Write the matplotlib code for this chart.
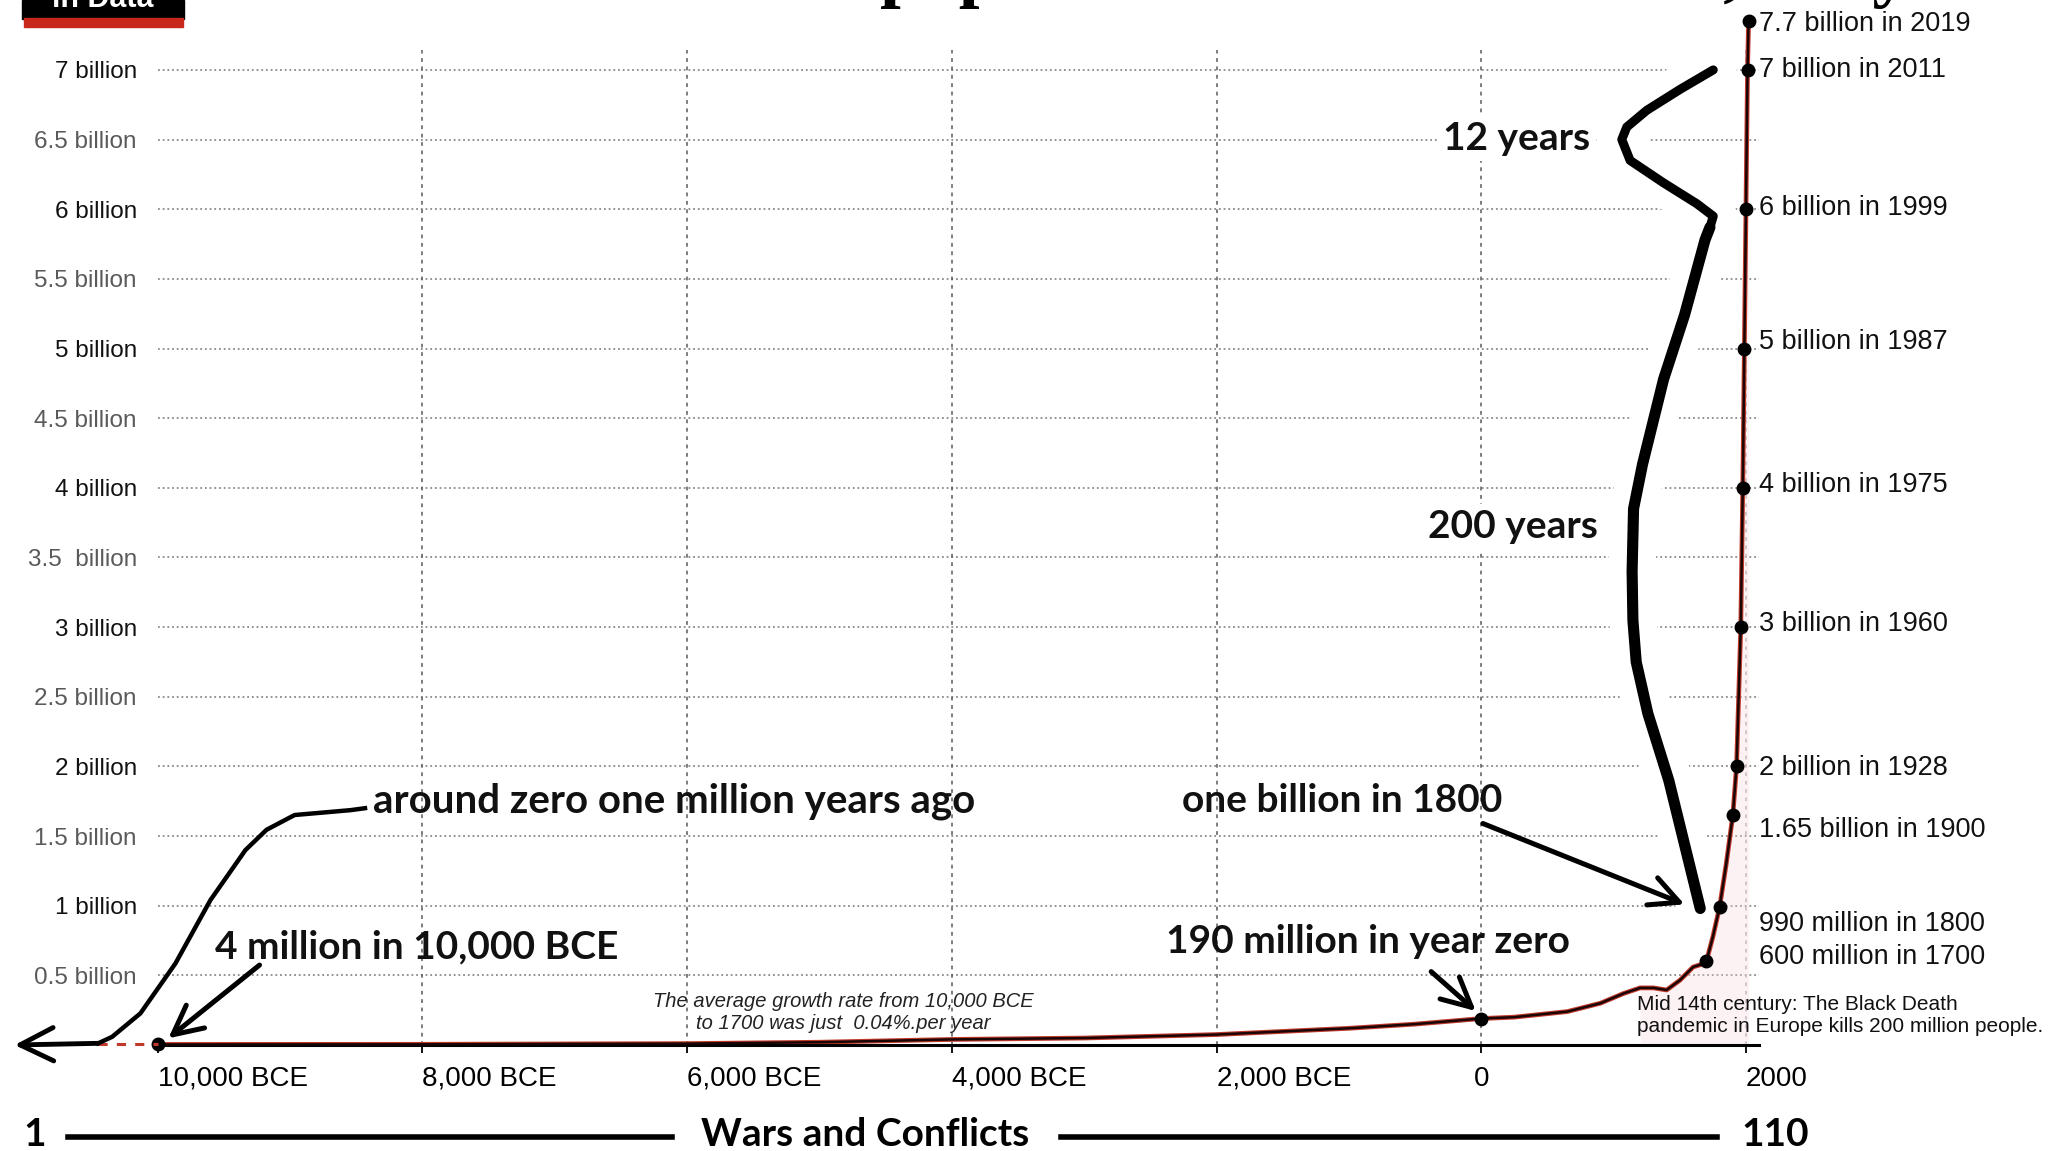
import numpy as np
import matplotlib
matplotlib.use("Agg")
import matplotlib.pyplot as plt
from matplotlib.lines import Line2D
from matplotlib.patches import Rectangle

plt.rcParams["font.family"] = ["Liberation Sans", "DejaVu Sans"]

# ------------------------------------------------------------------
# data (world population, billions)
# ------------------------------------------------------------------
years = [-10000, -8000, -6000, -5000, -4000, -3000, -2000, -1000, -500, 0,
         250, 650, 900, 1075, 1200, 1300, 1400, 1500, 1600, 1650, 1700, 1750,
         1800, 1850, 1900, 1928, 1960, 1975, 1987, 1999, 2011, 2019]
population_bn = [0.004, 0.005, 0.01, 0.02, 0.04, 0.05, 0.075, 0.12, 0.15, 0.19,
                 0.20, 0.24, 0.30, 0.37, 0.41, 0.41, 0.395, 0.465, 0.56, 0.575, 0.60, 0.78,
                 0.99, 1.30, 1.65, 2.0, 3.0, 4.0, 5.0, 6.0, 7.0, 7.7]

dot_years = [-10000, 0, 1700, 1800, 1900, 1928, 1960, 1975, 1987, 1999, 2011, 2019]

right_labels = ["7.7 billion in 2019", "7 billion in 2011", "6 billion in 1999",
                "5 billion in 1987", "4 billion in 1975", "3 billion in 1960",
                "2 billion in 1928", "1.65 billion in 1900", "990 million in 1800",
                "600 million in 1700"]

ytick_vals = [0.5, 1, 1.5, 2, 2.5, 3, 3.5, 4, 4.5, 5, 5.5, 6, 6.5, 7]
ytick_labels = ["0.5 billion", "1 billion", "1.5 billion", "2 billion", "2.5 billion",
                "3 billion", "3.5  billion", "4 billion", "4.5 billion", "5 billion",
                "5.5 billion", "6 billion", "6.5 billion", "7 billion"]

xtick_years = [-10000, -8000, -6000, -4000, -2000, 0, 2000]
xtick_labels = ["10,000 BCE", "8,000 BCE", "6,000 BCE", "4,000 BCE", "2,000 BCE", "0", "2000"]
grid_years = [-8000, -6000, -4000, -2000, 0, 2000]

# ------------------------------------------------------------------
# layout
# ------------------------------------------------------------------
W, H = 2059, 1151
Y_TOP = 7.14
SQUEEZE = 7.35          # the reference squeezes the 2019 point under the title
right_label_y = [7.33, 7.0, 6.01, 5.05, 4.02, 3.02, 1.99, 1.54, 0.87, 0.63]
BOLD = ["Lato", "DejaVu Sans"]
SERIF = ["Liberation Serif", "DejaVu Serif"]

# hand-drawn "12 years" / "200 years" bracket, in data units
bracket_top_x = [1752, 1501, 1250, 1099, 1061, 1124, 1375, 1627, 1752, 1727, 1690]
bracket_top_y = [7.0, 6.86, 6.71, 6.59, 6.50, 6.35, 6.19, 6.04, 5.95, 5.87, 5.78]
bracket_low_x = [1727, 1690, 1535, 1377, 1218, 1150, 1139, 1145, 1170, 1258, 1416, 1654]
bracket_low_y = [5.87, 5.78, 5.24, 4.78, 4.17, 3.85, 3.40, 3.05, 2.75, 2.38, 1.90, 0.98]

# hand-drawn arrow on the left
left_x = [-8433, -8542, -8965, -9177, -9336, -9601, -9865, -10130, -10343, -10449]
left_y = [1.700, 1.686, 1.651, 1.545, 1.400, 1.040, 0.586, 0.227, 0.059, 0.012]


def fx(px):
    return px / W


def fy(py):
    return 1 - py / H


fig = plt.figure(figsize=(W / 100, H / 100), dpi=100)
ax = fig.add_axes([0.07654, 0.09209, 0.77791, 0.86412])
ax.set_xlim(-10000, 2100)
ax.set_ylim(0, Y_TOP)

yrs = np.array(years)
pop = np.array(population_bn)
pop_plot = np.minimum(pop, SQUEEZE)

# grid
for v in ytick_vals:
    ax.axhline(v, color="#8a8a8a", lw=1.3, ls=(0, (1, 1.6)), zorder=0)
for g in grid_years:
    ax.axvline(g, color="#5a5a5a" if g != 2000 else "#b0b0b0",
               lw=1.1, ls=(0, (2.5, 3)), zorder=0)

# white halo round the bracket (it hides the grid in the reference)
bx = bracket_top_x + bracket_low_x[2:]
by = bracket_top_y + bracket_low_y[2:]
ax.plot(bx, by, color="white", lw=34, solid_capstyle="round",
        solid_joinstyle="round", zorder=1)

# population curve
mask = yrs >= 1200
ax.fill_between(yrs[mask], 0, pop_plot[mask], color="#f6d5dc", alpha=0.3,
                lw=0, zorder=2)
ax.plot(yrs, pop_plot, color="#c0392b", lw=3.4, zorder=3, clip_on=False)
ax.plot(yrs, pop_plot, color="#1a0505", lw=1.8, zorder=3.5, clip_on=False)
dmask = np.isin(yrs, dot_years)
ax.plot(yrs[dmask], pop_plot[dmask], "o", color="black", ms=9, zorder=4,
        clip_on=False)

ax.plot(bracket_top_x, bracket_top_y, color="black", lw=6.5, solid_capstyle="round",
        solid_joinstyle="round", zorder=5)
ax.plot(bracket_low_x, bracket_low_y, color="black", lw=8, solid_capstyle="round",
        solid_joinstyle="round", zorder=5)

# right-hand milestone labels
for lab, ly in zip(right_labels, right_label_y):
    ax.text(2101, ly, lab, fontsize=19.5, ha="left", va="center", color="#111111",
            clip_on=False)

# axes styling
for s in ["top", "right", "left"]:
    ax.spines[s].set_visible(False)
ax.spines["bottom"].set_linewidth(2.2)
ax.spines["bottom"].set_zorder(3)
ax.set_yticks(ytick_vals)
ax.set_yticklabels(ytick_labels)
ax.tick_params(axis="y", length=0, pad=15, labelsize=17.5)
for lab, v in zip(ax.get_yticklabels(), ytick_vals):
    lab.set_color("#111111" if float(v).is_integer() else "#5a5a5a")
ax.set_xticks(xtick_years)
ax.set_xticklabels(xtick_labels)
ax.tick_params(axis="x", length=6, width=1.3, pad=9, labelsize=20)
for lab, t in zip(ax.get_xticklabels(), xtick_labels):
    lab.set_ha("center" if t == "0" else "left")

# left: dashed stub and hand-drawn arrow
ax.plot([-10448, -10000], [0.004, 0.004], color="#c0392b", lw=2.2, ls=(0, (3, 3)),
        clip_on=False, zorder=4)
ax.plot(left_x, left_y, color="black", lw=3.2, clip_on=False, zorder=5,
        solid_joinstyle="round")
ax.annotate("", xy=(-11080, 0.0), xytext=(-10449, 0.012), annotation_clip=False,
            arrowprops=dict(arrowstyle="->, head_length=0.8, head_width=0.4",
                            lw=3.5, color="black", mutation_scale=30,
                            shrinkA=0, shrinkB=0))

arrow_kw = dict(arrowstyle="->, head_length=0.7, head_width=0.35", lw=3.6,
                color="black", mutation_scale=30, shrinkA=0, shrinkB=0)
ax.annotate("", xy=(-9919, 0.048), xytext=(-9230, 0.574), arrowprops=arrow_kw,
            annotation_clip=False, zorder=6)
ax.annotate("", xy=(1535, 1.01), xytext=(12, 1.59), arrowprops=arrow_kw, zorder=6)
ax.annotate("", xy=(-42, 0.244), xytext=(-379, 0.527), arrowprops=arrow_kw, zorder=6)

# bold annotations
ann = dict(fontweight="bold", family=BOLD, color="#111111", zorder=6)
ax.text(-8374, 1.752, "around zero one million years ago", ha="left", va="center",
        fontsize=29, **ann)
ax.text(-8046, 0.706, "4 million in 10,000 BCE", ha="center", va="center",
        fontsize=28, **ann)
ax.text(-1053, 1.752, "one billion in 1800", ha="center", va="center",
        fontsize=28, **ann)
ax.text(-855, 0.744, "190 million in year zero", ha="center", va="center",
        fontsize=28, **ann)
ax.text(266, 6.51, "12 years", ha="center", va="center", fontsize=28,
        bbox=dict(facecolor="white", edgecolor="none", pad=4), **ann)
ax.text(236, 3.72, "200 years", ha="center", va="center", fontsize=28,
        bbox=dict(facecolor="white", edgecolor="none", pad=4), **ann)

ax.text(-4823, 0.23, "The average growth rate from 10,000 BCE\nto 1700 was just  0.04%.per year",
        ha="center", va="center", fontsize=14.5, style="italic", color="#222222",
        linespacing=1.2, zorder=6)
ax.text(1178, 0.211, "Mid 14th century: The Black Death\npandemic in Europe kills 200 million people.",
        ha="left", va="center", fontsize=15, color="#111111", linespacing=1.2,
        clip_on=False, zorder=6)

# bottom strip: wars and conflicts
fig.text(fx(35), fy(1134), "1", fontsize=28, fontweight="bold", family=BOLD,
         ha="center", va="center")
fig.text(fx(865), fy(1134), "Wars and Conflicts", fontsize=28, fontweight="bold",
         family=BOLD, ha="center", va="center")
fig.text(fx(1775), fy(1134), "110", fontsize=28, fontweight="bold", family=BOLD,
         ha="center", va="center")
for x0, x1 in [(68, 672), (1061, 1717)]:
    fig.add_artist(Line2D([fx(x0), fx(x1)], [fy(1137), fy(1137)], lw=4, color="black"))

# cropped header: logo and title (mostly outside the canvas, as in the reference)
fig.add_artist(Rectangle((fx(22), fy(19)), fx(162), 19 / H, color="black",
                         transform=fig.transFigure))
fig.add_artist(Rectangle((fx(24), fy(27)), fx(159), 9 / H, color="#c8281c",
                         transform=fig.transFigure))
fig.text(fx(103), fy(7), "in Data", color="white", fontsize=22, fontweight="bold",
         ha="center", va="baseline")

# size the title so that its "p ... ," descenders sit where the reference has them
renderer = fig.canvas.get_renderer()
probe = fig.text(0, 0, "population over the last 12", family=SERIF, fontsize=48,
                 fontweight="bold")
probe_w = probe.get_window_extent(renderer).width
probe.remove()
title_fs = 48 * 842 / probe_w
fig.text(fx(880), fy(-7), "The size of the world ", family=SERIF,
         fontsize=title_fs, fontweight="bold", ha="right", va="baseline")
fig.text(fx(880), fy(-7), "population over the last 12,000 years",
         family=SERIF, fontsize=title_fs, fontweight="bold",
         ha="left", va="baseline")

fig.savefig("out.png", dpi=100)
plt.close(fig)
